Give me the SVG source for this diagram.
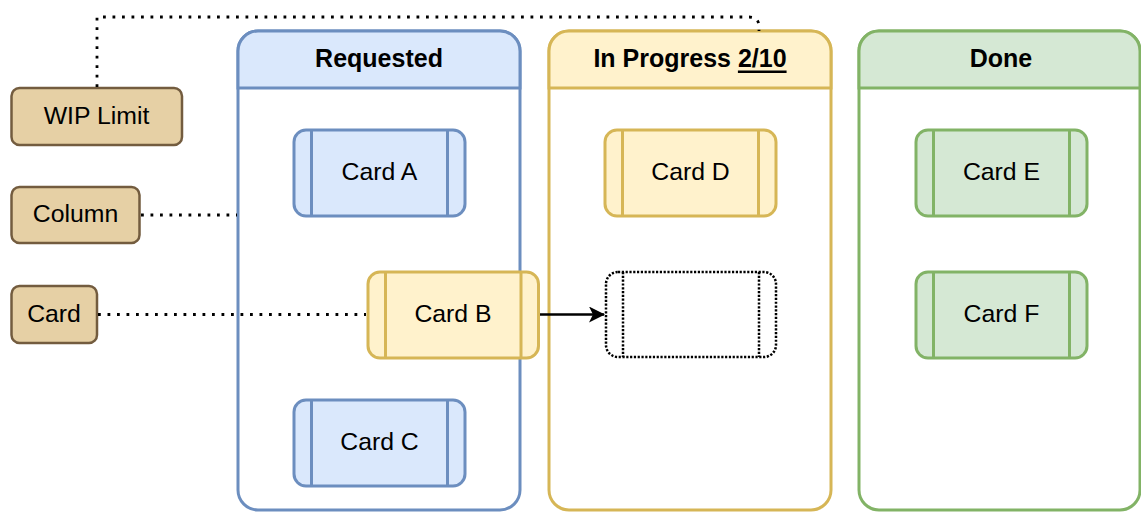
<svg xmlns="http://www.w3.org/2000/svg" width="1141" height="512" viewBox="0 0 1141 512">
<defs>
<style>
.t{font-family:"Liberation Sans",Arial,Helvetica,sans-serif;font-size:24.8px;fill:#000;text-anchor:middle;dominant-baseline:central}
.h{font-family:"Liberation Sans",Arial,Helvetica,sans-serif;font-size:25px;font-weight:bold;fill:#000;text-anchor:middle;dominant-baseline:central}
.colbody{fill:#ffffff;stroke-width:3}
.blue{fill:#dae8fc;stroke:#6c8ebf}
.yellow{fill:#fff2cc;stroke:#d6b656}
.green{fill:#d5e8d4;stroke:#82b366}
.tan{fill:#e6d0a5;stroke:#735c3f;stroke-width:2.5}
.card{stroke-width:3}
.dot{fill:none;stroke:#000;stroke-width:2.8;stroke-dasharray:2.8 6.7}
.ph{fill:none;stroke:#000;stroke-width:2.5;stroke-dasharray:2.2 1.6}
</style>
<marker id="arr" viewBox="0 0 16 16" refX="15" refY="8" markerWidth="16" markerHeight="16" markerUnits="userSpaceOnUse" orient="auto">
<path d="M0,0 L16,8 L0,16 L4,8 Z" fill="#000"/>
</marker>
</defs>

<g id="col-requested">
<rect class="colbody" x="238" y="31" width="282" height="479" rx="20" stroke="#6c8ebf"/>
<path class="blue" stroke-width="3" d="M238,88 V51 A20,20 0 0 1 258,31 H500 A20,20 0 0 1 520,51 V88 Z"/>
<text class="h" x="379" y="57.5">Requested</text>
</g>
<g id="col-inprogress">
<rect class="colbody" x="549" y="31" width="282" height="479" rx="20" stroke="#d6b656"/>
<path class="yellow" stroke-width="3" d="M549,88 V51 A20,20 0 0 1 569,31 H811 A20,20 0 0 1 831,51 V88 Z"/>
<text class="h" x="690" y="57.5">In Progress <tspan text-decoration="underline">2/10</tspan></text>
</g>
<g id="col-done">
<rect class="colbody" x="859" y="31" width="281" height="479" rx="20" stroke="#82b366"/>
<path class="green" stroke-width="3" d="M859,88 V51 A20,20 0 0 1 879,31 H1120 A20,20 0 0 1 1140,51 V88 Z"/>
<text class="h" x="1001" y="57.5">Done</text>
</g>

<g id="card-a">
<rect class="card blue" x="294" y="130" width="171" height="86" rx="12"/>
<path class="blue" stroke-width="3" d="M311.5,130 V216 M447.5,130 V216"/>
<text class="t" x="379.5" y="171.5">Card A</text>
</g>
<g id="card-c">
<rect class="card blue" x="294" y="400" width="171" height="86" rx="12"/>
<path class="blue" stroke-width="3" d="M311.5,400 V486 M447.5,400 V486"/>
<text class="t" x="379.5" y="441.5">Card C</text>
</g>
<g id="card-d">
<rect class="card yellow" x="605" y="130" width="171" height="86" rx="12"/>
<path class="yellow" stroke-width="3" d="M622.5,130 V216 M758.5,130 V216"/>
<text class="t" x="690.5" y="171.5">Card D</text>
</g>
<g id="placeholder">
<rect class="ph" x="606" y="272" width="170" height="85" rx="12"/>
<path class="ph" d="M623,272 V357 M759,272 V357"/>
</g>
<g id="card-e">
<rect class="card green" x="916" y="130" width="171" height="86" rx="12"/>
<path class="green" stroke-width="3" d="M933.5,130 V216 M1069.5,130 V216"/>
<text class="t" x="1001.5" y="171.5">Card E</text>
</g>
<g id="card-f">
<rect class="card green" x="916" y="272" width="171" height="86" rx="12"/>
<path class="green" stroke-width="3" d="M933.5,272 V358 M1069.5,272 V358"/>
<text class="t" x="1001.5" y="313.5">Card F</text>
</g>

<g id="label-wip">
<rect class="tan" x="11.5" y="88" width="170.5" height="57" rx="8"/>
<text class="t" x="96.5" y="115">WIP Limit</text>
</g>
<g id="label-column">
<rect class="tan" x="11.5" y="187" width="128" height="56" rx="8"/>
<text class="t" x="75.5" y="213.5">Column</text>
</g>
<g id="label-card">
<rect class="tan" x="11.5" y="286" width="85.5" height="57" rx="8"/>
<text class="t" x="54" y="313">Card</text>
</g>

<g id="connectors">
<path class="dot" d="M97,87 V17 H749 Q759,17 759,27 V31"/>
<path class="dot" d="M141,215 H237"/>
<path class="dot" d="M98,314.5 H366"/>
<path d="M539,314.5 H604" fill="none" stroke="#000" stroke-width="2.5" marker-end="url(#arr)"/>
</g>

<g id="card-b">
<rect class="card yellow" x="368" y="272" width="170.5" height="86" rx="12"/>
<path class="yellow" stroke-width="3" d="M385.5,272 V358 M521,272 V358"/>
<text class="t" x="453" y="313.5">Card B</text>
</g>
</svg>
